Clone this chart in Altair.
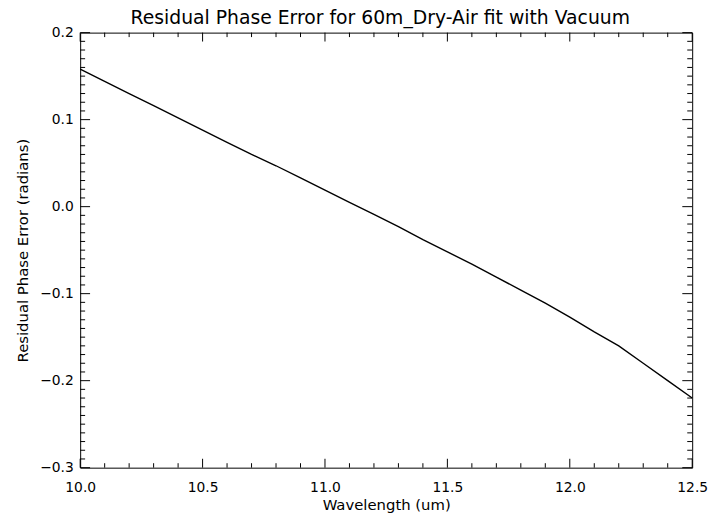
import altair as alt
import pandas as pd

# Data
wavelength = [10.0, 10.1, 10.2, 10.3, 10.4, 10.5, 10.6, 10.7, 10.8, 10.9,
              11.0, 11.1, 11.2, 11.3, 11.4, 11.5, 11.6, 11.7, 11.8, 11.9,
              12.0, 12.1, 12.2, 12.3, 12.4, 12.5]
residual = [0.158, 0.144, 0.130, 0.116, 0.102, 0.088, 0.074, 0.060, 0.047, 0.033,
            0.019, 0.005, -0.009, -0.023, -0.038, -0.052, -0.066, -0.081, -0.096, -0.111,
            -0.127, -0.144, -0.160, -0.180, -0.200, -0.220]

x_major = [10.0, 10.5, 11.0, 11.5, 12.0, 12.5]
x_minor = [10.1, 10.2, 10.3, 10.4, 10.6, 10.7, 10.8, 10.9,
           11.1, 11.2, 11.3, 11.4, 11.6, 11.7, 11.8, 11.9,
           12.1, 12.2, 12.3, 12.4]
y_major = [-0.3, -0.2, -0.1, 0.0, 0.1, 0.2]
y_minor = [round(-0.3 + 0.01 * i, 2) for i in range(51) if i % 10 != 0]

title_text = "Residual Phase Error for 60m_Dry-Air fit with Vacuum"
x_title = "Wavelength (um)"
y_title = "Residual Phase Error (radians)"

W, H = 619, 440
FONT = "DejaVu Sans"

xs = alt.Scale(domain=[10.0, 12.5], nice=False, zero=False)
ys = alt.Scale(domain=[-0.3, 0.2], nice=False, zero=False)

x_axis = alt.Axis(values=x_major, format=".1f", title=x_title,
                  ticks=False, domain=False, grid=False, labelFlush=False,
                  labelPadding=13, labelFontSize=14, titleFontSize=15,
                  labelColor="black", titleColor="black",
                  labelFont=FONT, titleFont=FONT, titleFontWeight="normal",
                  titlePadding=3)
y_axis = alt.Axis(values=y_major, format=".1f", title=y_title,
                  ticks=False, domain=False, grid=False, labelFlush=False,
                  labelPadding=7, labelFontSize=14, titleFontSize=15,
                  labelColor="black", titleColor="black",
                  labelFont=FONT, titleFont=FONT, titleFontWeight="normal",
                  titlePadding=9)

df = pd.DataFrame({"wavelength": wavelength, "residual": residual})

line = alt.Chart(df).mark_line(color="black", strokeWidth=1.4).encode(
    x=alt.X("wavelength:Q", scale=xs, axis=x_axis, title=x_title),
    y=alt.Y("residual:Q", scale=ys, axis=y_axis, title=y_title),
)


def xticks(vals, length, top):
    d = pd.DataFrame({"wavelength": vals})
    y0 = 0 if top else H
    y1 = length if top else H - length
    return alt.Chart(d).mark_rule(color="black", strokeWidth=1).encode(
        x=alt.X("wavelength:Q", scale=xs, axis=x_axis, title=x_title),
        y=alt.value(y0), y2=alt.value(y1))


def yticks(vals, length, right):
    d = pd.DataFrame({"residual": vals})
    x0 = W if right else 0
    x1 = W - length if right else length
    return alt.Chart(d).mark_rule(color="black", strokeWidth=1).encode(
        y=alt.Y("residual:Q", scale=ys, axis=y_axis, title=y_title),
        x=alt.value(x0), x2=alt.value(x1))


layers = [
    line,
    xticks(x_major, 9, False), xticks(x_minor, 4.5, False),
    xticks(x_major, 9, True), xticks(x_minor, 4.5, True),
    yticks(y_major, 10, False), yticks(y_minor, 5, False),
    yticks(y_major, 10, True), yticks(y_minor, 5, True),
]

chart = alt.layer(*layers).properties(
    width=W, height=H,
    autosize=alt.AutoSizeParams(type="none"),
    padding={"left": 73, "top": 22, "right": 17, "bottom": 48},
    background="white",
    title=alt.TitleParams(text=title_text, font=FONT, fontSize=19,
                          fontWeight="normal", color="black", anchor="middle",
                          baseline="alphabetic", offset=0, dx=-6, dy=17),
).configure_view(stroke="black", strokeWidth=1)

chart.save("out.html", embed_options={"renderer": "svg", "actions": False})
